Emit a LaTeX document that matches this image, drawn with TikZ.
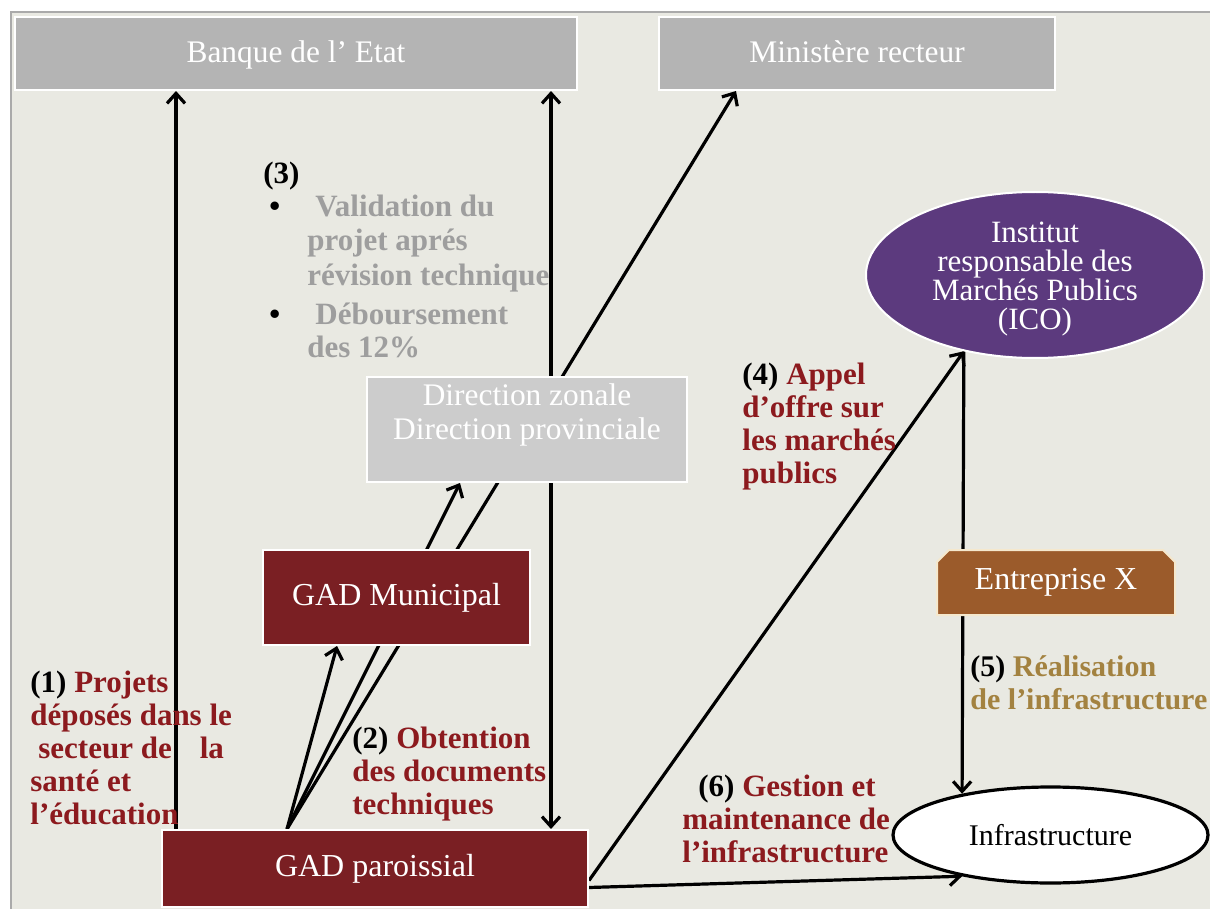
\documentclass[tikz,border=0pt]{standalone}
\usepackage{fontspec}
\setmainfont{Liberation Serif}
\usetikzlibrary{shapes.geometric,shapes.misc,backgrounds,arrows.meta}

\definecolor{bgpaper}{RGB}{233,233,226}
\definecolor{framegrey}{RGB}{170,170,170}
\definecolor{boxgrey}{RGB}{180,180,180}
\definecolor{dirgrey}{RGB}{204,204,204}
\definecolor{gadred}{RGB}{122,31,35}
\definecolor{icopurple}{RGB}{92,58,126}
\definecolor{entbrown}{RGB}{155,91,43}
\definecolor{entline}{RGB}{245,232,205}
\definecolor{labred}{RGB}{140,26,30}
\definecolor{listgrey}{RGB}{158,158,158}
\definecolor{olive}{RGB}{163,130,64}

\tikzset{
  greybox/.style={rectangle, draw=white, line width=1pt, fill=boxgrey, text=white, text height=11pt, text depth=2pt, font=\fontsize{15.7}{17}\selectfont},
  gadbox/.style={rectangle, draw=white, line width=1pt, fill=gadred, text=white, font=\fontsize{16}{16}\selectfont},
  steplabel/.style={anchor=north west, inner sep=0pt, align=left, text=labred, font=\bfseries\fontsize{15.5}{16.4}\selectfont},
  link/.style={line width=1.6pt, ->, >={Straight Barb[length=5pt,width=9pt]}}
}

\begin{document}
\begin{tikzpicture}[x=0.5pt,y=-0.5pt]
\useasboundingbox (0,0) rectangle (1210,909);

% boxes
\node[greybox, minimum width=281pt, minimum height=36.5pt] (banque) at (296,53.5) {Banque de l' Etat};
\node[greybox, minimum width=198pt, minimum height=36.5pt] (ministere) at (857,53.5) {Ministère recteur};
\node[greybox, fill=dirgrey, minimum width=160pt, minimum height=52.5pt,
  label={[text=white, align=center, yshift=7.25pt, font=\fontsize{15.7}{17}\selectfont]center:{Direction zonale\\Direction provinciale}}] (direction) at (527,429.5) {};
\node[gadbox, minimum width=133.5pt, minimum height=47.5pt] (municipal) at (396.5,597.5) {GAD Municipal};
\node[gadbox, minimum width=213pt, minimum height=38.5pt] (paroissial) at (375,868.5) {GAD paroissial};
\node[ellipse, draw=white, line width=1pt, fill=icopurple, inner sep=0pt, minimum width=169pt, minimum height=83pt,
  label={[text=white, align=center, yshift=-2pt, font=\fontsize{15.5}{14.5}\selectfont]center:{Institut\\responsable des\\Marchés Publics\\(ICO)}}] (ico) at (1035,275) {};
\node[chamfered rectangle, chamfered rectangle corners={north west, north east}, chamfered rectangle sep=3pt,
  draw=entline, line width=1pt, fill=entbrown, text=white, minimum width=119pt, minimum height=32.5pt, font=\fontsize{16}{16}\selectfont] (entreprise) at (1056,582.5) {Entreprise X};
\node[ellipse, draw=black, line width=1.6pt, fill=white, inner sep=0pt, minimum width=157.5pt, minimum height=48pt, font=\fontsize{15}{15}\selectfont] (infra) at (1050.5,835) {Infrastructure};

% step labels
\node[steplabel] (lab1) at (30,671) {\textcolor{black}{(1)} Projets\\déposés dans le\\\hspace*{4pt}secteur de\hspace*{14pt}la\\santé et\\l'éducation};
\node[steplabel] (lab2) at (352,727) {\textcolor{black}{(2)} Obtention\\des documents\\techniques};
\node[anchor=north west, inner sep=0pt, text=listgrey, font=\bfseries\fontsize{15.5}{16.4}\selectfont] (lab3) at (263,160) {%
  \begin{tabular}{@{\hspace{3pt}}p{15pt}@{\hspace{4pt}}l@{}}
  \multicolumn{2}{@{}l@{}}{\textcolor{black}{(3)}}\\
  \textcolor{black}{\textbullet} & \hspace*{4pt}Validation du\\[1pt]
  & projet aprés\\[1pt]
  & révision technique\\[3pt]
  \textcolor{black}{\textbullet} & \hspace*{4pt}Déboursement\\
  & des 12\%
  \end{tabular}};
\node[steplabel] (lab4) at (742,363) {\textcolor{black}{(4)} Appel\\d'offre sur\\les marchés\\publics};
\node[steplabel, text=olive, font=\bfseries\fontsize{15}{16.4}\selectfont] (lab5) at (970,655) {\textcolor{black}{(5)} Réalisation\\de l'infrastructure};
\node[steplabel] (lab6) at (682,775) {\hspace*{8pt}\textcolor{black}{(6)} Gestion et\\maintenance de\\l'infrastructure};

\coordinate (xa) at (176,0);
\coordinate (xb) at (551,0);
\coordinate (xc) at (287,0);

% connectors, behind the boxes
\begin{scope}[on background layer]
\fill[bgpaper] (11,12) rectangle (1210,909);
\draw[line width=1pt, framegrey] (11,909) -- (11,12) -- (1210,12);
\draw[link] (paroissial.north -| xa) -- (banque.south -| xa);
\draw[link, <->] (banque.south -| xb) -- (paroissial.north -| xb);
\draw[link] (paroissial.north -| xc) -- ([xshift=-29.75pt]municipal.south);
\draw[link] (paroissial.north -| xc) -- ([xshift=-33.5pt]direction.south);
\draw[link] (paroissial.north -| xc) -- ([xshift=-60.5pt]ministere.south);
\draw[link] ([yshift=-6pt]paroissial.east) -- (ico.227);
\draw[link] (ico.227) -- (infra.155);
\draw[link] ([yshift=-9.5pt]paroissial.east) -- (infra.205);
\end{scope}
\end{tikzpicture}
\end{document}
